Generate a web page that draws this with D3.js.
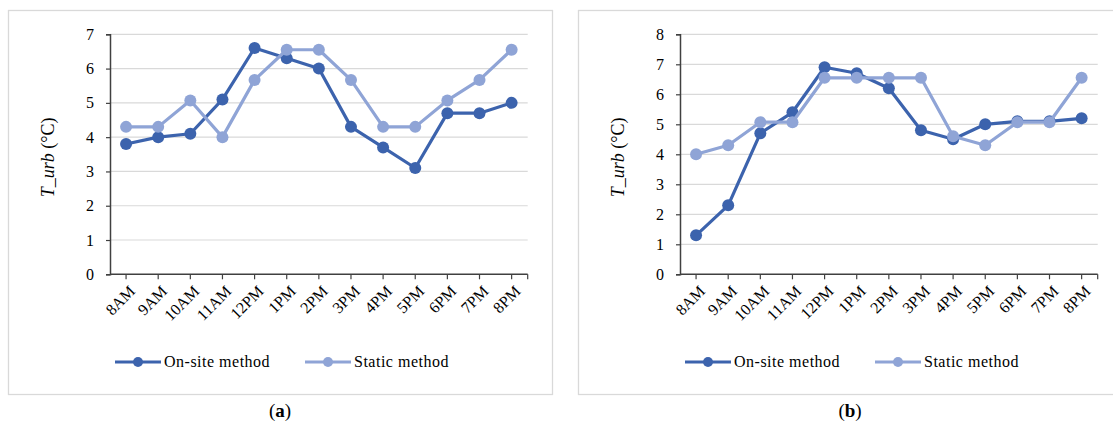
<!DOCTYPE html>
<html>
<head>
<meta charset="utf-8">
<script src="https://cdn.jsdelivr.net/npm/d3@7"></script>
<style>
  html, body { margin: 0; padding: 0; background: #fff; }
  svg { display: block; }
  text { font-family: "Liberation Serif", "Times New Roman", serif; fill: #000; }
</style>
</head>
<body>
<svg id="chart" width="1113" height="425"></svg>
<script>
// Hour categories shared by both panels
const hours = ["8AM", "9AM", "10AM", "11AM", "12PM", "1PM", "2PM", "3PM", "4PM", "5PM", "6PM", "7PM", "8PM"];

// Panel (a) series, T_urb in °C
const onSiteA = [3.8, 4.0, 4.1, 5.1, 6.6, 6.3, 6.0, 4.3, 3.7, 3.1, 4.7, 4.7, 5.0];
const staticA = [4.3, 4.3, 5.07, 4.0, 5.67, 6.55, 6.55, 5.67, 4.3, 4.3, 5.07, 5.67, 6.55];
const ticksA = [0, 1, 2, 3, 4, 5, 6, 7];

// Panel (b) series, T_urb in °C
const onSiteB = [1.3, 2.3, 4.7, 5.4, 6.9, 6.7, 6.2, 4.8, 4.5, 5.0, 5.1, 5.1, 5.2];
const staticB = [4.0, 4.3, 5.07, 5.07, 6.55, 6.55, 6.55, 6.55, 4.6, 4.3, 5.07, 5.07, 6.55];
const ticksB = [0, 1, 2, 3, 4, 5, 6, 7, 8];

const seriesNames = ["On-site method", "Static method"];
const seriesColors = ["#3C63AD", "#8FA4D6"];

const svg = d3.select("#chart");

function drawPanel(offsetX, onSite, stat, ticks, letter) {
  const g = svg.append("g").attr("transform", `translate(${offsetX},0)`);

  // frame
  g.append("rect")
    .attr("x", 8.5).attr("y", 10.5)
    .attr("width", 544).attr("height", 384)
    .attr("fill", "#fff").attr("stroke", "#D9D9D9").attr("stroke-width", 1.3);

  const left = 110, right = 527.7, top = 34.3, bottom = 274.3;

  const x = d3.scaleBand().domain(hours).range([left, right]).paddingInner(0).paddingOuter(0);
  const y = d3.scaleLinear().domain([0, d3.max(ticks)]).range([bottom, top]);
  const cx = d => x(d) + x.bandwidth() / 2;

  // horizontal gridlines
  g.append("g").selectAll("line").data(ticks.filter(t => t > 0)).join("line")
    .attr("x1", left).attr("x2", right)
    .attr("y1", d => y(d)).attr("y2", d => y(d))
    .attr("stroke", "#D9D9D9").attr("stroke-width", 1.2);

  // y axis
  const yAxis = g.append("g").attr("transform", `translate(${left},0)`)
    .call(d3.axisLeft(y).tickValues(ticks).tickSize(4).tickPadding(12).tickFormat(d3.format("d")));
  yAxis.select(".domain").attr("stroke", "#404040").attr("stroke-width", 1.5);
  yAxis.selectAll(".tick line").attr("stroke", "#404040").attr("stroke-width", 1.2);
  yAxis.selectAll(".tick text").attr("font-size", 16).attr("font-family", "Liberation Serif").attr("fill", "#000");

  // x axis: ticks at category centres plus the far end
  const xAxis = g.append("g").attr("transform", `translate(0,${bottom})`)
    .call(d3.axisBottom(x).tickSize(5).tickPadding(6));
  xAxis.select(".domain").attr("stroke", "#404040").attr("stroke-width", 1.5)
    .attr("d", `M${left},0H${right}`);
  xAxis.selectAll(".tick line").attr("stroke", "#404040").attr("stroke-width", 1.2);
  xAxis.append("line").attr("x1", right).attr("x2", right).attr("y1", 0).attr("y2", 5)
    .attr("stroke", "#404040").attr("stroke-width", 1.2);
  xAxis.selectAll(".tick text")
    .attr("font-size", 16).attr("font-family", "Liberation Serif").attr("fill", "#000")
    .attr("text-anchor", "end")
    .attr("dy", "0.35em")
    .attr("transform", "translate(6,14) rotate(-45)")
    .attr("x", 0).attr("y", 0);

  // y axis title
  const title = g.append("text")
    .attr("transform", `translate(54,${(top + bottom) / 2 + 3}) rotate(-90)`)
    .attr("text-anchor", "middle")
    .attr("font-size", 18);
  title.append("tspan").attr("font-style", "italic").text("T_urb");
  title.append("tspan").text(" (°C)");

  // series lines and markers
  const line = d3.line().x((d, i) => cx(hours[i])).y(d => y(d));
  [onSite, stat].forEach((vals, k) => {
    g.append("path").datum(vals)
      .attr("d", line).attr("fill", "none")
      .attr("stroke", seriesColors[k]).attr("stroke-width", 3.2)
      .attr("stroke-linejoin", "round");
    g.append("g").selectAll("circle").data(vals).join("circle")
      .attr("cx", (d, i) => cx(hours[i])).attr("cy", d => y(d))
      .attr("r", 6).attr("fill", seriesColors[k]);
  });

  // legend
  const legendX = [115, 305];
  const legendY = 362;
  seriesNames.forEach((name, k) => {
    const lg = g.append("g").attr("transform", `translate(${legendX[k]},${legendY})`);
    lg.append("line").attr("x1", 0).attr("x2", 46).attr("y1", 0).attr("y2", 0)
      .attr("stroke", seriesColors[k]).attr("stroke-width", 3.2);
    lg.append("circle").attr("cx", 23).attr("cy", 0).attr("r", 5).attr("fill", seriesColors[k]);
    lg.append("text").attr("x", 49).attr("y", 0).attr("dy", "0.34em")
      .attr("font-size", 16).attr("letter-spacing", 0.5).text(name);
  });

  // panel caption
  const cap = g.append("text").attr("x", 280).attr("y", 417)
    .attr("text-anchor", "middle").attr("font-size", 19);
  cap.append("tspan").text("(");
  cap.append("tspan").attr("font-weight", "bold").text(letter);
  cap.append("tspan").text(")");
}

drawPanel(0, onSiteA, staticA, ticksA, "a");
drawPanel(570, onSiteB, staticB, ticksB, "b");
</script>
</body>
</html>
